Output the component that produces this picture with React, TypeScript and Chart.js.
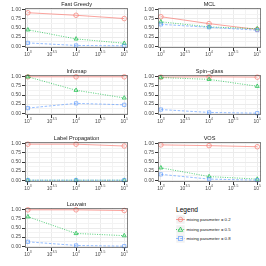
import React, { useEffect, useRef } from "react";
import { Chart, registerables } from "chart.js";

Chart.register(...registerables);

// ---------- data ----------
const influence = [1000, 10000, 100000];
const mixingLabels = ["0.2", "0.5", "0.8"];
const panelTitles = ["Fast Greedy", "MCL", "Infomap", "Spin\u2212glass", "Label Propagation", "VOS", "Louvain"];

// rows: mixing parameter 0.2, 0.5, 0.8 ; columns: influence 10^3, 10^4, 10^5
const fastGreedy = [[0.92, 0.85, 0.76], [0.45, 0.2, 0.08], [0.09, 0.02, 0.01]];
const mcl = [[0.81, 0.62, 0.46], [0.67, 0.53, 0.48], [0.6, 0.52, 0.44]];
const infomap = [[1.0, 1.0, 1.0], [1.0, 0.63, 0.42], [0.14, 0.27, 0.23]];
const spinGlass = [[0.99, 1.0, 0.99], [0.98, 0.93, 0.74], [0.1, 0.02, 0.0]];
const labelPropagation = [[0.99, 0.99, 0.94], [0.0, 0.0, 0.0], [0.0, 0.0, 0.0]];
const vos = [[0.97, 0.95, 0.92], [0.34, 0.1, 0.03], [0.16, 0.03, 0.0]];
const louvain = [[1.0, 1.0, 0.98], [0.81, 0.35, 0.29], [0.12, 0.02, 0.0]];

const xMajorExponents = [3, 3.5, 4, 4.5, 5];
const xMinorExponents = [3.25, 3.75, 4.25, 4.75];
const yMajorValues = [0, 0.25, 0.5, 0.75, 1];
const yMajorLabels = ["0.00", "0.25", "0.50", "0.75", "1.00"];
const yMinorValues = [0.125, 0.375, 0.625, 0.875];

// ---------- styles ----------
const FONT = '"Liberation Sans", Arial, sans-serif';
const seriesColors = ["rgba(248,118,109,0.75)", "rgba(0,186,56,0.75)", "rgba(97,156,255,0.75)"];
const seriesDash = [[], [1, 1.4], [2.6, 1.6]];
const seriesShapes = ["circle", "triangle", "rect"];
const legendSolid = ["#F8766D", "#00BA38", "#619CFF"];

const panelValues = [fastGreedy, mcl, infomap, spinGlass, labelPropagation, vos, louvain];

const CW = 133;
const CH = 66;
const rowTops = [0, 67, 134, 200];

const decorPlugin = {
  id: "decor",
  afterDraw(chart: any) {
    const { ctx, chartArea } = chart;
    const title = chart.options.plugins.decor.title;
    ctx.save();
    // panel border
    ctx.strokeStyle = "rgba(51,51,51,0.6)";
    ctx.lineWidth = 1;
    ctx.strokeRect(
      Math.round(chartArea.left) + 0.5,
      Math.round(chartArea.top) + 0.5,
      Math.round(chartArea.right - chartArea.left) - 1,
      Math.round(chartArea.bottom - chartArea.top) - 1
    );
    // title
    ctx.fillStyle = "#1a1a1a";
    ctx.font = `5.6px ${FONT}`;
    ctx.textAlign = "center";
    ctx.textBaseline = "middle";
    ctx.fillText(title, (chartArea.left + chartArea.right) / 2, chartArea.top - 4);
    // x tick labels 10^e
    const xs = chart.scales.x;
    ctx.fillStyle = "#4D4D4D";
    ctx.textBaseline = "top";
    ctx.textAlign = "left";
    xMajorExponents.forEach((e) => {
      const px = xs.getPixelForValue(Math.pow(10, e));
      ctx.font = `5px ${FONT}`;
      const w1 = ctx.measureText("10").width;
      ctx.font = `3.4px ${FONT}`;
      const expStr = String(e);
      const w2 = ctx.measureText(expStr).width;
      const x0 = px - (w1 + w2) / 2;
      const y0 = chartArea.bottom + 4;
      ctx.font = `5px ${FONT}`;
      ctx.fillText("10", x0, y0);
      ctx.font = `3.4px ${FONT}`;
      ctx.fillText(expStr, x0 + w1, y0 - 1.6);
    });
    ctx.restore();
  },
};

function Panel({ title, values, left, top }: { title: string; values: number[][]; left: number; top: number }) {
  const ref = useRef<HTMLCanvasElement | null>(null);
  useEffect(() => {
    if (!ref.current) return;
    const datasets = values
      .map((series, s) => ({
        label: `mixing parameter = ${mixingLabels[s]}`,
        data: influence.map((x, i) => ({ x, y: series[i] })),
        borderColor: seriesColors[s],
        borderWidth: 0.9,
        borderDash: seriesDash[s],
        pointStyle: seriesShapes[s],
        pointRadius: 2.3,
        pointBorderColor: seriesColors[s],
        pointBackgroundColor: "rgba(0,0,0,0)",
        pointBorderWidth: 0.9,
        fill: false,
        tension: 0,
        clip: false as any,
      }))
      .reverse();
    const chart = new Chart(ref.current, {
      type: "line",
      data: { datasets },
      options: {
        animation: false,
        responsive: false,
        events: [],
        layout: { padding: { top: 8, left: 0, right: 3, bottom: 0 } },
        plugins: {
          legend: { display: false },
          tooltip: { enabled: false },
          decor: { title },
        } as any,
        scales: {
          x: {
            type: "logarithmic",
            min: Math.pow(10, 2.94),
            max: Math.pow(10, 5.08),
            afterBuildTicks: (s: any) => {
              const t = [
                ...xMajorExponents.map((e) => ({ value: Math.pow(10, e), minor: false })),
                ...xMinorExponents.map((e) => ({ value: Math.pow(10, e), minor: true })),
              ];
              t.sort((a, b) => a.value - b.value);
              s.ticks = t;
            },
            afterFit: (s: any) => {
              s.height = 18;
            },
            ticks: { autoSkip: false, maxRotation: 0, callback: () => "", font: { size: 1 } },
            grid: {
              color: (c: any) => (c.tick && c.tick.minor ? "#F3F3F3" : "#EBEBEB"),
              tickColor: (c: any) => (c.tick && c.tick.minor ? "rgba(0,0,0,0)" : "#333333"),
              tickLength: 3,
              lineWidth: 1,
            },
            border: { display: false },
          } as any,
          y: {
            type: "linear",
            min: -0.05,
            max: 1.05,
            afterBuildTicks: (s: any) => {
              const t = [
                ...yMajorValues.map((v) => ({ value: v, minor: false })),
                ...yMinorValues.map((v) => ({ value: v, minor: true })),
              ];
              t.sort((a, b) => a.value - b.value);
              s.ticks = t;
            },
            afterFit: (s: any) => {
              s.width = 25;
            },
            ticks: {
              autoSkip: false,
              padding: 1,
              color: "#4D4D4D",
              font: { size: 5, family: FONT },
              callback: (v: any) => {
                const idx = yMajorValues.findIndex((m) => Math.abs(m - Number(v)) < 1e-9);
                return idx >= 0 ? yMajorLabels[idx] : "";
              },
            },
            grid: {
              color: (c: any) => (c.tick && c.tick.minor ? "#F3F3F3" : "#EBEBEB"),
              tickColor: (c: any) => (c.tick && c.tick.minor ? "rgba(0,0,0,0)" : "#333333"),
              tickLength: 3,
              lineWidth: 1,
            },
            border: { display: false },
          } as any,
        },
      },
      plugins: [decorPlugin],
    });
    return () => chart.destroy();
  }, [title, values]);
  return (
    <canvas
      ref={ref}
      width={CW}
      height={CH}
      style={{ position: "absolute", left, top, width: CW, height: CH, display: "block" }}
    />
  );
}

function LegendKey({ s }: { s: number }) {
  const c = legendSolid[s];
  const dash = s === 0 ? undefined : s === 1 ? "1 1.4" : "2.6 1.6";
  return (
    <svg width={9} height={9} style={{ display: "block" }}>
      <rect x={0} y={0} width={9} height={9} fill="#F2F2F2" stroke="#FFFFFF" strokeWidth={0.5} />
      <line x1={0} y1={4.5} x2={9} y2={4.5} stroke={c} strokeOpacity={0.75} strokeWidth={0.9} strokeDasharray={dash} />
      {s === 0 && <circle cx={4.5} cy={4.5} r={2.2} fill="none" stroke={c} strokeOpacity={0.75} strokeWidth={0.9} />}
      {s === 1 && (
        <polygon points="4.5,2.1 6.8,6.3 2.2,6.3" fill="none" stroke={c} strokeOpacity={0.75} strokeWidth={0.9} />
      )}
      {s === 2 && <rect x={2.5} y={2.5} width={4} height={4} fill="none" stroke={c} strokeOpacity={0.75} strokeWidth={0.9} />}
    </svg>
  );
}

export default function App() {
  return (
    <div
      style={{
        position: "fixed",
        left: 0,
        top: 0,
        width: 266,
        height: 266,
        background: "#FFFFFF",
        overflow: "hidden",
      }}
    >
      {panelTitles.map((t, i) => (
        <Panel key={t} title={t} values={panelValues[i]} left={(i % 2) * 133} top={rowTops[Math.floor(i / 2)]} />
      ))}
      <div style={{ position: "absolute", left: 176, top: 206, fontFamily: FONT, color: "#000" }}>
        <div style={{ fontSize: 6.6, lineHeight: "8px", marginBottom: 1 }}>Legend</div>
        {mixingLabels.map((m, s) => (
          <div key={m} style={{ display: "flex", alignItems: "center", height: 9.5 }}>
            <LegendKey s={s} />
            <span style={{ fontSize: 4.3, marginLeft: 1.5, color: "#1a1a1a", whiteSpace: "nowrap" }}>
              {`mixing parameter  = ${m}`}
            </span>
          </div>
        ))}
      </div>
    </div>
  );
}
